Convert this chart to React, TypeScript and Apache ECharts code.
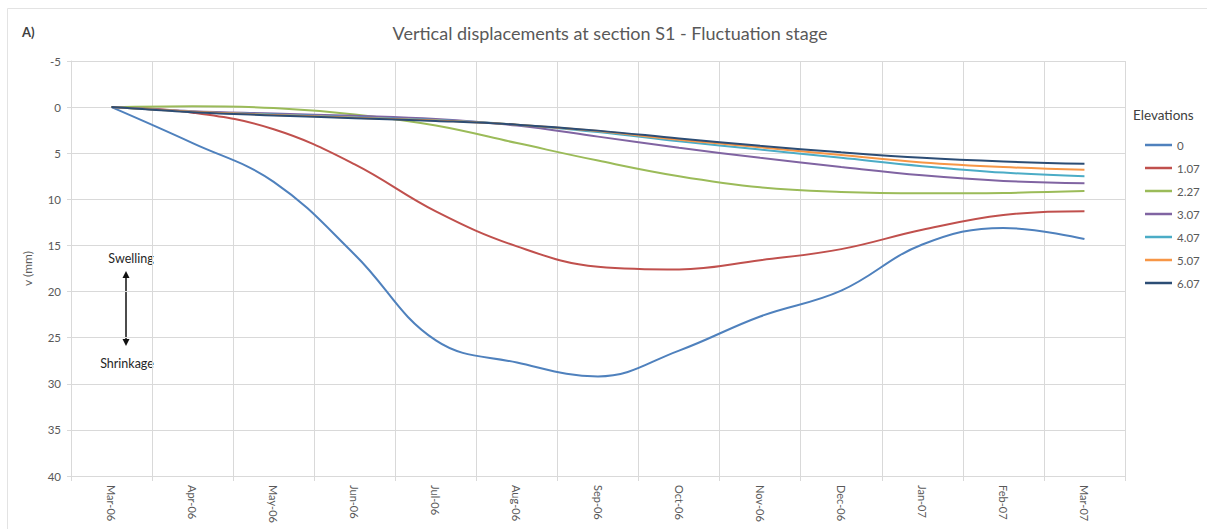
import React, { useEffect, useRef } from "react";
import * as echarts from "echarts";

const months = ["Mar-06", "Apr-06", "May-06", "Jun-06", "Jul-06", "Aug-06", "Sep-06", "Oct-06", "Nov-06", "Dec-06", "Jan-07", "Feb-07", "Mar-07"];
const elevations = ["0", "1.07", "2.27", "3.07", "4.07", "5.07", "6.07"];
const colors = ["#4F81BD", "#C0504D", "#9BBB59", "#8064A2", "#4BACC6", "#F79646", "#2C4D75"];

const v0 = [0, 3.9, 8.1, 16.0, 25.3, 27.7, 29.2, 26.4, 22.7, 19.9, 14.9, 13.1, 14.3];
const v107 = [0, 0.6, 2.4, 6.2, 11.3, 15.1, 17.3, 17.6, 16.6, 15.4, 13.3, 11.7, 11.3];
const v227 = [0, -0.1, 0.1, 0.8, 2.0, 3.9, 5.8, 7.5, 8.7, 9.2, 9.35, 9.3, 9.1];
const v307 = [0, 0.45, 0.7, 0.95, 1.3, 2.0, 3.2, 4.4, 5.5, 6.5, 7.4, 8.0, 8.25];
const v407 = [0, 0.5, 0.8, 1.1, 1.4, 1.9, 2.7, 3.7, 4.6, 5.5, 6.4, 7.1, 7.5];
const v507 = [0, 0.5, 0.85, 1.15, 1.45, 1.9, 2.6, 3.55, 4.35, 5.2, 6.0, 6.5, 6.8];
const v607 = [0, 0.55, 0.9, 1.2, 1.5, 1.9, 2.55, 3.4, 4.2, 4.9, 5.5, 5.9, 6.15];
const seriesValues = [v0, v107, v227, v307, v407, v507, v607];

const yMin = -5;
const yMax = 40;
const yStep = 5;

const FONT = "Lato, 'Open Sans', sans-serif";
const GRID = "#D9D9D9";
const TXT = "#595959";

export default function App() {
  const ref = useRef<HTMLDivElement>(null);
  useEffect(() => {
    if (!ref.current) return;
    const chart = echarts.init(ref.current, undefined, { renderer: "svg" });
    chart.setOption({
      animation: false,
      backgroundColor: "#ffffff",
      textStyle: { fontFamily: FONT },
      grid: { left: 71, top: 61, width: 1054, height: 415, containLabel: false },
      legend: {
        orient: "vertical",
        left: 1145,
        top: 138,
        padding: 0,
        icon: "rect",
        itemWidth: 27,
        itemHeight: 2.5,
        itemGap: 9,
        data: elevations,
        textStyle: { fontFamily: FONT, fontSize: 11.5, lineHeight: 14, color: TXT },
      },
      xAxis: {
        type: "category",
        data: months,
        boundaryGap: true,
        axisLine: { show: true, onZero: false, lineStyle: { color: GRID, width: 1 } },
        axisTick: { show: true, length: 5, lineStyle: { color: GRID } },
        splitLine: { show: true, lineStyle: { color: GRID, width: 1 } },
        axisLabel: { rotate: -90, margin: 9, fontSize: 11, color: TXT, fontFamily: FONT },
      },
      yAxis: {
        type: "value",
        inverse: true,
        min: yMin,
        max: yMax,
        interval: yStep,
        name: "v (mm)",
        nameLocation: "middle",
        nameGap: 38,
        nameTextStyle: { fontSize: 12, color: TXT, fontFamily: FONT },
        axisLine: { show: true, lineStyle: { color: GRID, width: 1 } },
        axisTick: { show: true, length: 4, lineStyle: { color: GRID } },
        splitLine: { show: true, lineStyle: { color: GRID, width: 1 } },
        axisLabel: { margin: 10, fontSize: 11.5, color: TXT, fontFamily: FONT },
      },
      series: elevations.map((name, i) => ({
        name,
        type: "line",
        data: seriesValues[i],
        smooth: 0.4,
        symbol: "none",
        lineStyle: { width: 2, color: colors[i] },
        itemStyle: { color: colors[i] },
        z: 2 + i,
      })),
      graphic: [
        {
          type: "rect",
          silent: true,
          shape: { x: 7.5, y: 8.5, width: 1260, height: 600 },
          style: { fill: "none", stroke: "#E3E3E3", lineWidth: 1 },
          z: -1,
        },
        {
          type: "text",
          x: 610,
          y: 33,
          style: {
            text: "Vertical displacements at section S1 - Fluctuation stage",
            fill: TXT,
            font: `18px ${FONT}`,
            textAlign: "center",
            textVerticalAlign: "middle",
          },
        },
        {
          type: "text",
          x: 22,
          y: 32,
          style: { text: "A)", fill: "#404040", font: `bold 13px ${FONT}`, textAlign: "left", textVerticalAlign: "middle" },
        },
        {
          type: "text",
          x: 131,
          y: 258,
          style: { text: "Swelling", fill: "#262626", font: `12.5px ${FONT}`, textAlign: "center", textVerticalAlign: "middle" },
        },
        {
          type: "text",
          x: 127,
          y: 363,
          style: { text: "Shrinkage", fill: "#262626", font: `12.5px ${FONT}`, textAlign: "center", textVerticalAlign: "middle" },
        },
        {
          type: "line",
          shape: { x1: 126, y1: 276, x2: 126, y2: 341 },
          style: { stroke: "#111111", lineWidth: 1.5 },
        },
        {
          type: "polygon",
          shape: { points: [[126, 271], [122.5, 278], [129.5, 278]] },
          style: { fill: "#111111" },
        },
        {
          type: "polygon",
          shape: { points: [[126, 346], [122.5, 339], [129.5, 339]] },
          style: { fill: "#111111" },
        },
        {
          type: "text",
          x: 1133,
          y: 115,
          style: { text: "Elevations", fill: "#404040", font: `13.5px ${FONT}`, textAlign: "left", textVerticalAlign: "middle" },
        },
      ],
    });
    return () => chart.dispose();
  }, []);
  return <div ref={ref} style={{ position: "fixed", left: 0, top: 0, width: 1207, height: 529 }} />;
}
